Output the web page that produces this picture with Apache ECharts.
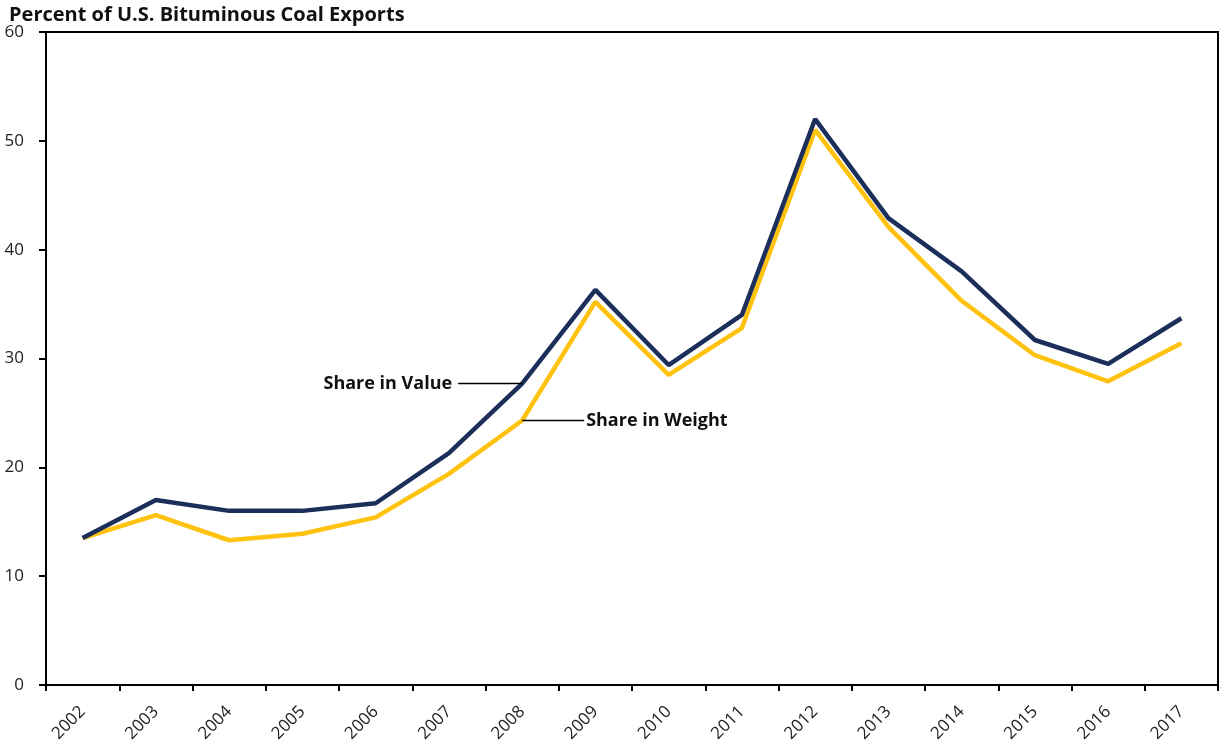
<!DOCTYPE html>
<html>
<head>
<meta charset="utf-8">
<script src="https://cdn.jsdelivr.net/npm/echarts@6/dist/echarts.min.js"></script>
<style>
  html, body { margin: 0; padding: 0; background: #fff; }
  #chart { width: 1220px; height: 751px; }
</style>
</head>
<body>
<div id="chart"></div>
<script>
var years = ['2002', '2003', '2004', '2005', '2006', '2007', '2008', '2009',
  '2010', '2011', '2012', '2013', '2014', '2015', '2016', '2017'];
var shareValue = [13.5, 17.0, 16.0, 16.0, 16.7, 21.3, 27.7, 36.3, 29.4, 34.0, 52.0, 42.9, 38.0, 31.7, 29.5, 33.7];
var shareWeight = [13.5, 15.6, 13.3, 13.9, 15.4, 19.4, 24.3, 35.2, 28.5, 32.8, 51.0, 42.1, 35.3, 30.3, 27.9, 31.4];

var navy = '#1c2f5a';
var gold = '#ffc20e';
var font = '"Open Sans"';

const chart = echarts.init(document.getElementById('chart'), null, { renderer: 'canvas' });

chart.setOption({
  animation: false,
  backgroundColor: '#ffffff',
  title: {
    text: 'Percent of U.S. Bituminous Coal Exports',
    left: 4,
    top: 0,
    textStyle: { fontFamily: font, fontWeight: 'bold', fontSize: 20, color: '#111' }
  },
  grid: {
    left: 46, right: 2, top: 32, bottom: 66,
    show: true, borderColor: '#000', borderWidth: 2, backgroundColor: 'transparent'
  },
  xAxis: {
    type: 'category',
    data: years,
    boundaryGap: true,
    axisLine: { lineStyle: { color: '#000', width: 2 } },
    axisTick: { show: true, length: 6, lineStyle: { color: '#000', width: 2 } },
    axisLabel: { rotate: 45, fontFamily: font, fontSize: 17, color: '#222', margin: 24 }
  },
  yAxis: {
    type: 'value',
    min: 0, max: 60, interval: 10,
    axisLine: { show: true, lineStyle: { color: '#000', width: 2 } },
    axisTick: { show: true, length: 7, lineStyle: { color: '#000', width: 2 } },
    axisLabel: { fontFamily: font, fontSize: 17, color: '#222', margin: 22 },
    splitLine: { show: false }
  },
  series: [
    {
      name: 'Share in Weight',
      type: 'line',
      data: shareWeight,
      symbol: 'none',
      lineStyle: { color: gold, width: 4.5 },
      z: 2
    },
    {
      name: 'Share in Value',
      type: 'line',
      data: shareValue,
      symbol: 'none',
      lineStyle: { color: navy, width: 4.5 },
      z: 3
    }
  ]
});

// leader-line annotations attached to the 2008 points
var pv = chart.convertToPixel({ seriesIndex: 1 }, [6, shareValue[6]]);
var pw = chart.convertToPixel({ seriesIndex: 0 }, [6, shareWeight[6]]);
chart.setOption({
  graphic: [
    { type: 'line', shape: { x1: pv[0] - 64, y1: pv[1], x2: pv[0], y2: pv[1] },
      style: { stroke: '#000', lineWidth: 1.5 }, z: 10 },
    { type: 'text', x: pv[0] - 70, y: pv[1],
      style: { text: 'Share in Value', fill: '#111', font: 'bold 18px ' + font,
        textAlign: 'right', textVerticalAlign: 'middle' }, z: 10 },
    { type: 'line', shape: { x1: pw[0], y1: pw[1], x2: pw[0] + 62, y2: pw[1] },
      style: { stroke: '#000', lineWidth: 1.5 }, z: 10 },
    { type: 'text', x: pw[0] + 64, y: pw[1],
      style: { text: 'Share in Weight', fill: '#111', font: 'bold 18px ' + font,
        textAlign: 'left', textVerticalAlign: 'middle' }, z: 10 }
  ]
});
</script>
</body>
</html>
